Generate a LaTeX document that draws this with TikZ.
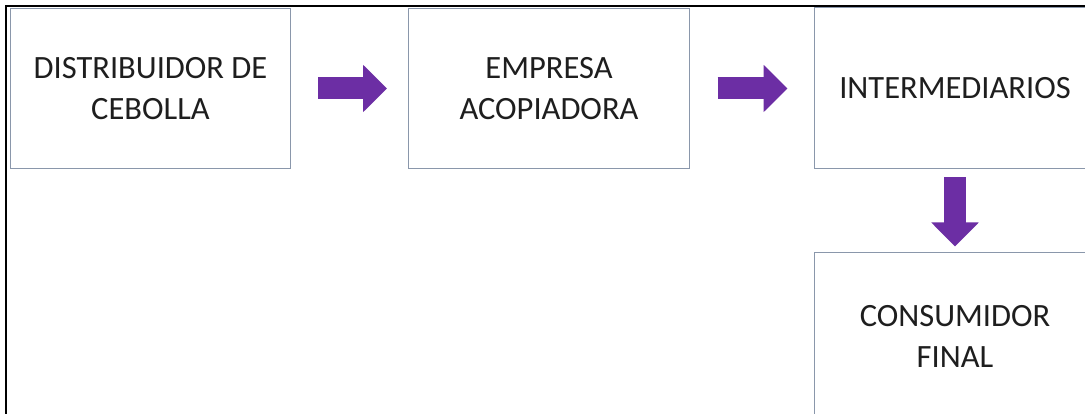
\documentclass[tikz,border=0pt]{standalone}
\usepackage{fontspec}
\setmainfont{Carlito}
\usepackage{xcolor}
\usetikzlibrary{arrows.meta}
\definecolor{boxline}{HTML}{8A97AB}
\definecolor{flecha}{HTML}{6C2EA4}
\definecolor{texto}{HTML}{1E1E1E}
\tikzset{
    caja/.style={draw=boxline, line width=1pt, minimum width=281pt, minimum height=160pt,
        inner sep=0pt, align=center, text=texto, anchor=north west,
        font=\fontsize{32.5}{41}\selectfont},
    cajaabierta/.style={caja, draw=none},
    borde/.style={draw=boxline, line width=1pt},
    flechota/.style={flecha, line width=22pt, -{Triangle[length=24pt,width=46pt]}}
}
\begin{document}
\begin{tikzpicture}[x=1pt, y=-1pt]
                \useasboundingbox (0,0) rectangle (1085,414);
                \clip (0,0) rectangle (1085,414);
                \fill[white] (0,0) rectangle (1085,414);
                \node[caja, minimum width=280pt] (distribuidor) at (10,8) {DISTRIBUIDOR DE\\CEBOLLA};
                \node[caja] (empresa) at (408,8) {EMPRESA\\ACOPIADORA};
                \node[cajaabierta] (inter) at (814,8) {INTERMEDIARIOS};
                \node[cajaabierta, minimum height=166pt] (consumidor) at (814,253) {CONSUMIDOR\\FINAL};
                \foreach \caja in {inter, consumidor}
                    \draw[borde] (\caja.north east) -- (\caja.north west) -- (\caja.south west) -- (\caja.south east);
                \draw[flechota, shorten <=27pt, shorten >=21pt] (distribuidor) -- (empresa);
                \draw[flechota, shorten <=27.5pt, shorten >=26.5pt] (empresa) -- (inter);
                \draw[flechota, shorten <=8.5pt, shorten >=6.5pt] (inter) -- (consumidor);
                \draw[line width=2pt] (6,414) -- (6,6) -- (1085,6);
            \end{tikzpicture}
\end{document}
